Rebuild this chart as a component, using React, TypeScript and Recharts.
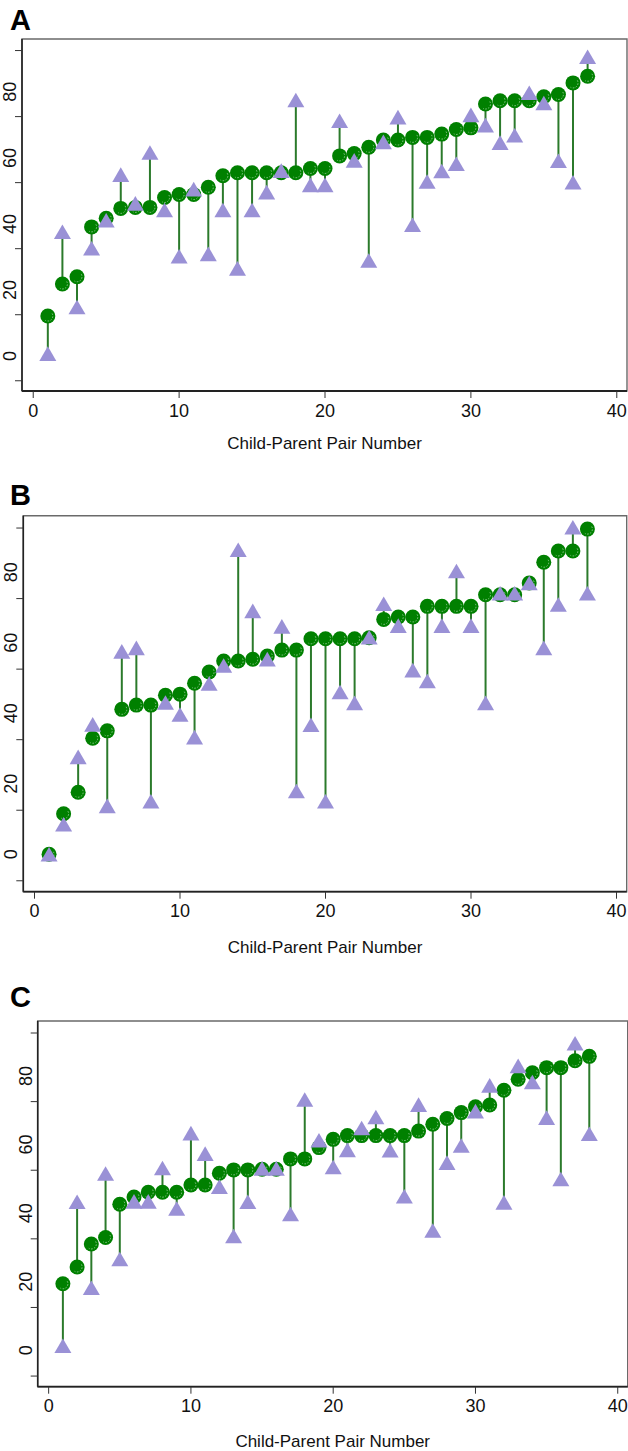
import React from "react";
import {
  ComposedChart,
  Scatter,
  XAxis,
  YAxis,
  ErrorBar,
  ReferenceArea,
  ReferenceLine,
} from "recharts";

// pair numbers (x categories)
const pairNumbers = [
  1, 2, 3, 4, 5, 6, 7, 8, 9, 10, 11, 12, 13, 14, 15, 16, 17, 18, 19, 20, 21, 22, 23, 24, 25,
  26, 27, 28, 29, 30, 31, 32, 33, 34, 35, 36, 37, 38,
];

// panel A
const childA = [
  12.1, 21.8, 24.0, 39.1, 41.7, 44.7, 45.0, 45.0, 48.0, 48.9, 48.9, 51.1, 54.6, 55.5, 55.5, 55.5,
  55.5, 55.5, 56.8, 56.8, 60.6, 61.3, 63.2, 65.4, 65.4, 66.2, 66.2, 67.2, 68.6, 69.1, 76.3, 77.3,
  77.3, 77.3, 78.5, 79.2, 82.7, 84.7,
];
const parentA = [
  0.7, 37.6, 14.8, 32.6, 41.1, 54.9, 46.2, 61.6, 44.2, 30.2, 50.5, 30.9, 44.2, 26.5, 44.2, 49.6,
  56.1, 77.5, 51.8, 51.8, 71.2, 59.2, 28.9, 64.8, 72.3, 39.7, 52.8, 56.0, 58.2, 73.0, 69.9, 64.6,
  66.8, 79.7, 76.6, 59.1, 52.6, 90.6,
];

// panel B
const childB = [
  0, 11.5, 17.6, 32.9, 35.0, 41.1, 42.3, 42.3, 45.1, 45.4, 48.5, 51.7, 54.8, 54.8, 55.3, 56.2,
  57.9, 57.9, 61.1, 61.1, 61.1, 61.1, 61.4, 66.6, 67.3, 67.3, 70.3, 70.3, 70.3, 70.3, 73.6, 73.6,
  73.6, 76.9, 82.8, 86.0, 86.0, 92.2,
];
const parentB = [
  0, 8.5, 27.6, 36.8, 13.7, 57.5, 58.5, 15.0, 43.0, 39.6, 33.2, 48.4, 53.5, 86.3, 69.0, 55.3,
  64.6, 17.9, 36.7, 15.0, 46.0, 42.9, 61.5, 71.0, 64.8, 52.2, 49.1, 64.8, 80.3, 64.8, 42.9, 74.0,
  74.0, 76.9, 58.5, 70.8, 92.7, 74.0,
];

// panel C
const childC = [
  19.4, 24.3, 31.0, 32.9, 42.6, 44.7, 46.1, 46.1, 46.1, 48.2, 48.2, 51.6, 52.6, 52.6, 52.8, 52.8,
  55.8, 55.8, 59.1, 61.5, 62.6, 62.6, 62.6, 62.6, 62.6, 63.9, 65.9, 67.6, 69.3, 71.0, 71.5, 75.8,
  79.0, 80.9, 82.4, 82.4, 84.4, 85.7,
];
const parentC = [
  1.3, 43.3, 18.2, 51.5, 26.6, 43.4, 43.4, 53.1, 41.3, 63.3, 57.3, 47.7, 33.3, 43.3, 53.0, 53.0,
  39.7, 73.1, 61.2, 53.4, 58.4, 64.8, 68.0, 58.3, 44.9, 71.6, 34.9, 54.7, 59.7, 69.7, 77.2, 43.1,
  82.9, 78.2, 67.8, 49.9, 89.5, 63.1,
];

const xTicks = [0, 10, 20, 30, 40];
const yLabelTicks = [0, 20, 40, 60, 80];
// tick marks on the y axis sit between the labels in the original
const yTickMarks = [-7.5, 12.5, 32.5, 52.5, 72.5, 92.5];
const xDomain = [-0.77, 40.7];
const yDomain = [-10.6, 96];

const FONT = '"Liberation Sans", Arial, Helvetica, sans-serif';
const GREEN = "#008000";
const STEM = "#2b7a2b";
const LAVENDER = "#9a91d6";
const INK = "#111";

function buildRows(child: number[], parent: number[]) {
  return pairNumbers.map((n, i) => ({
    pair: n,
    child: child[i],
    parent: parent[i],
    stem: parent[i] >= child[i] ? [0, parent[i] - child[i]] : [child[i] - parent[i], 0],
  }));
}

const Empty = () => <g />;

const Dot = (props: any) => {
  const { cx, cy } = props;
  if (cx == null || cy == null) return <g />;
  const r = 5;
  const sx = cx + r * Math.cos(-Math.PI / 6);
  const sy = cy + r * Math.sin(-Math.PI / 6);
  const ex = cx + r * Math.cos((2 * Math.PI) / 3);
  const ey = cy + r * Math.sin((2 * Math.PI) / 3);
  return (
    <g>
      <circle cx={cx} cy={cy} r={7.5} fill={GREEN} />
      <path
        d={`M${sx},${sy} A${r},${r} 0 0 1 ${ex},${ey}`}
        fill="none"
        stroke="#b5ddb5"
        strokeWidth={0.9}
        strokeDasharray="1.5 1.5"
        opacity={0.8}
      />
    </g>
  );
};

const Tri = (props: any) => {
  const { cx, cy } = props;
  if (cx == null || cy == null) return <g />;
  return (
    <path
      d={`M${cx},${cy - 7.4}L${cx + 8.5},${cy + 7.2}L${cx - 8.5},${cy + 7.2}Z`}
      fill={LAVENDER}
    />
  );
};

const YLabel = (props: any) => {
  const { x, y, payload } = props;
  const bx = x + 1;
  return (
    <text
      x={bx}
      y={y}
      transform={`rotate(-90 ${bx} ${y})`}
      textAnchor="middle"
      fontSize={18}
      fontFamily={FONT}
      fill={INK}
    >
      {payload.value}
    </text>
  );
};

interface PanelProps {
  letter: string;
  top: number;
  height: number;
  margin: { top: number; right: number; bottom: number; left: number };
  titleOffset: number;
  letterTop: number;
  child: number[];
  parent: number[];
}

function Panel({ letter, top, height, margin, titleOffset, letterTop, child, parent }: PanelProps) {
  const rows = buildRows(child, parent);
  return (
    <>
      <div
        style={{
          position: "absolute",
          left: 10,
          top: letterTop,
          fontFamily: FONT,
          fontWeight: "bold",
          fontSize: 29,
          lineHeight: "29px",
          color: "#000",
        }}
      >
        {letter}
      </div>
      <div style={{ position: "absolute", left: 0, top }}>
        <ComposedChart width={628} height={height} data={rows} margin={margin}>
          <XAxis
            dataKey="pair"
            type="number"
            domain={xDomain}
            ticks={xTicks}
            interval={0}
            allowDataOverflow
            axisLine={false}
            tickLine={{ stroke: "#333" }}
            tickSize={7}
            tickMargin={6}
            height={62}
            tick={{ fontSize: 18, fill: INK, fontFamily: FONT }}
            label={{
              value: "Child-Parent Pair Number",
              position: "insideBottom",
              offset: titleOffset,
              fontSize: 17,
              fill: INK,
              fontFamily: FONT,
            }}
          />
          {/* tick marks only, next to the plot box */}
          <YAxis
            yAxisId="yA"
            type="number"
            domain={yDomain}
            ticks={yTickMarks}
            interval={0}
            allowDataOverflow
            axisLine={false}
            tickLine={{ stroke: "#333" }}
            tickSize={7}
            width={7}
            tick={Empty}
          />
          {/* rotated labels, outside the tick marks */}
          <YAxis
            yAxisId="yB"
            type="number"
            domain={yDomain}
            ticks={yLabelTicks}
            interval={0}
            allowDataOverflow
            axisLine={false}
            tickLine={false}
            tickSize={0}
            tickMargin={0}
            width={15}
            tick={<YLabel />}
          />
          <ReferenceArea
            yAxisId="yA"
            x1={xDomain[0]}
            x2={xDomain[1]}
            y1={yDomain[0]}
            y2={yDomain[1]}
            fill="none"
            stroke="#6a6a6a"
            strokeWidth={1.4}
            ifOverflow="visible"
          />
          <ReferenceLine yAxisId="yA" y={yDomain[0]} stroke="#222" strokeWidth={1.8} ifOverflow="visible" />
          <ReferenceLine yAxisId="yA" x={xDomain[0]} stroke="#222" strokeWidth={1.6} ifOverflow="visible" />
          <Scatter yAxisId="yA" dataKey="child" shape={Empty} isAnimationActive={false}>
            <ErrorBar
              dataKey="stem"
              direction="y"
              width={0}
              stroke={STEM}
              strokeWidth={2}
              isAnimationActive={false}
            />
          </Scatter>
          <Scatter yAxisId="yA" dataKey="child" shape={Dot} isAnimationActive={false} />
          <Scatter yAxisId="yA" dataKey="parent" shape={Tri} isAnimationActive={false} />
        </ComposedChart>
      </div>
    </>
  );
}

export default function App() {
  return (
    <div
      style={{
        position: "absolute",
        left: 0,
        top: 0,
        width: 628,
        height: 1451,
        background: "#fff",
        overflow: "hidden",
      }}
    >
      <Panel
        letter="A"
        top={0}
        height={460}
        margin={{ top: 39, right: 1, bottom: 7, left: 0 }}
        titleOffset={4}
        letterTop={5.6}
        child={childA}
        parent={parentA}
      />
      <Panel
        letter="B"
        top={465}
        height={495}
        margin={{ top: 50.7, right: 1.3, bottom: 6.3, left: 1.3 }}
        titleOffset={1}
        letterTop={481}
        child={childB}
        parent={parentB}
      />
      <Panel
        letter="C"
        top={955}
        height={496}
        margin={{ top: 66, right: 0.3, bottom: 2.3, left: 15.7 }}
        titleOffset={2}
        letterTop={983}
        child={childC}
        parent={parentC}
      />
    </div>
  );
}
